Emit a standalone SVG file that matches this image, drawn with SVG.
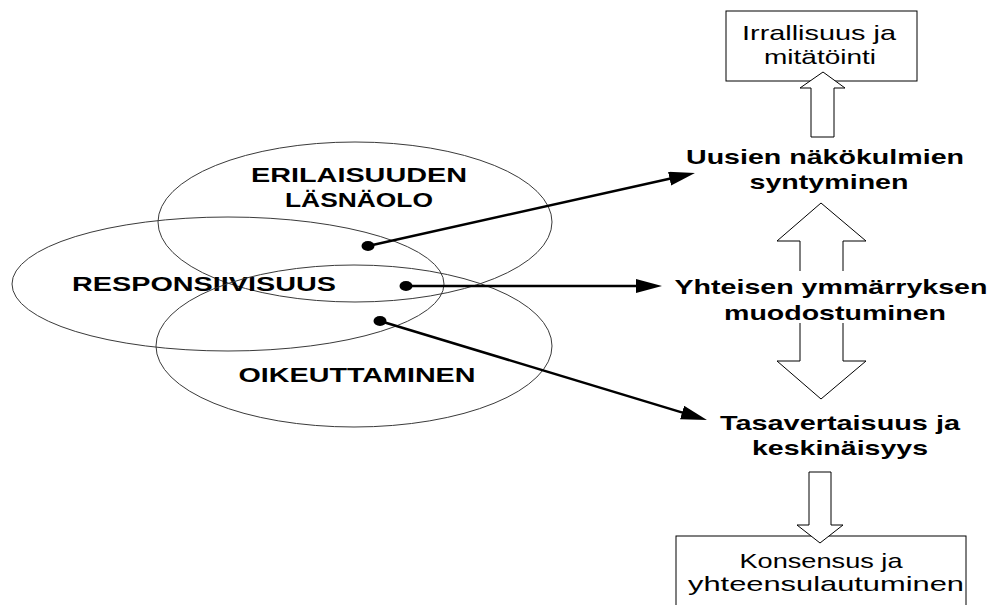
<svg xmlns="http://www.w3.org/2000/svg" width="994" height="605" viewBox="0 0 994 605">
  <style>
    .ell { fill: none; stroke: #3a3a3a; stroke-width: 1; }
    .lab { font-family: "Liberation Sans", Arial, sans-serif; font-weight: bold; font-size: 20px; fill: #000; text-anchor: middle; }
    .rlab { font-family: "Liberation Sans", Arial, sans-serif; font-weight: bold; font-size: 21px; fill: #000; text-anchor: middle; }
    .btxt { font-family: "Liberation Sans", Arial, sans-serif; font-size: 21px; fill: #000; text-anchor: middle; }
    .box { fill: #fff; stroke: #000; stroke-width: 1; }
    .link { fill: none; stroke: #000; stroke-width: 2.5; }
    .dot { fill: #000; }
    .block { fill: #fff; stroke: #000; stroke-width: 1; stroke-linejoin: miter; }
  </style>
  <defs>
    <marker id="head" markerUnits="userSpaceOnUse" markerWidth="28" markerHeight="16" refX="16" refY="7" orient="auto">
      <path d="M0,0 L26,7 L0,14 Z" fill="#000"/>
    </marker>
  </defs>
  <rect width="994" height="605" fill="#fff"/>

  <g id="erilaisuuden">
    <ellipse class="ell" cx="355" cy="222" rx="197" ry="80"/>
    <text class="lab" x="359" y="182" textLength="216" lengthAdjust="spacingAndGlyphs">ERILAISUUDEN</text>
    <text class="lab" x="359" y="207" textLength="148" lengthAdjust="spacingAndGlyphs">LÄSNÄOLO</text>
  </g>
  <g id="responsiivisuus">
    <ellipse class="ell" cx="228" cy="284" rx="216" ry="67"/>
    <text class="lab" x="204" y="291" textLength="264" lengthAdjust="spacingAndGlyphs">RESPONSIIVISUUS</text>
  </g>
  <g id="oikeuttaminen">
    <ellipse class="ell" cx="354" cy="346" rx="198" ry="81"/>
    <text class="lab" x="357" y="382" textLength="237" lengthAdjust="spacingAndGlyphs">OIKEUTTAMINEN</text>
  </g>

  <g id="irrallisuus">
    <rect class="box" x="726" y="11" width="191" height="70"/>
    <text class="btxt" x="819" y="40" textLength="154" lengthAdjust="spacingAndGlyphs">Irrallisuus ja</text>
    <text class="btxt" x="820" y="64" textLength="112" lengthAdjust="spacingAndGlyphs">mitätöinti</text>
  </g>
  <g id="uusien">
    <text class="rlab" x="825" y="164" textLength="278" lengthAdjust="spacingAndGlyphs">Uusien näkökulmien</text>
    <text class="rlab" x="829" y="189" textLength="159" lengthAdjust="spacingAndGlyphs">syntyminen</text>
  </g>
  <g id="yhteisen">
    <text class="rlab" x="831" y="294" textLength="313" lengthAdjust="spacingAndGlyphs">Yhteisen ymmärryksen</text>
    <text class="rlab" x="835" y="320" textLength="222" lengthAdjust="spacingAndGlyphs">muodostuminen</text>
  </g>
  <g id="tasavertaisuus">
    <text class="rlab" x="840" y="430" textLength="240" lengthAdjust="spacingAndGlyphs">Tasavertaisuus ja</text>
    <text class="rlab" x="840" y="455" textLength="176" lengthAdjust="spacingAndGlyphs">keskinäisyys</text>
  </g>
  <g id="konsensus">
    <rect class="box" x="676" y="536" width="290" height="80"/>
    <text class="btxt" x="821" y="568" textLength="163" lengthAdjust="spacingAndGlyphs">Konsensus ja</text>
    <text class="btxt" x="826" y="591" textLength="276" lengthAdjust="spacingAndGlyphs">yhteensulautuminen</text>
  </g>

  <g id="connectors">
    <line class="link" x1="368" y1="246" x2="685.2" y2="175.2" marker-end="url(#head)"/>
    <line class="link" x1="406" y1="286" x2="652" y2="286" marker-end="url(#head)"/>
    <line class="link" x1="380" y1="321" x2="697.4" y2="417.1" marker-end="url(#head)"/>
    <ellipse class="dot" cx="368" cy="246" rx="6.5" ry="5"/>
    <ellipse class="dot" cx="406" cy="286" rx="6.5" ry="5"/>
    <ellipse class="dot" cx="380" cy="321" rx="6.5" ry="5"/>
    <path class="block" d="M811,137 L811,88 L800,88 L823,72 L845,88 L834,88 L834,137 Z"/>
    <path class="block" d="M800,271 L800,241 L777,241 L821,203 L866,241 L843,241 L843,271"/>
    <path class="block" d="M800,323 L800,361 L777,361 L821,399 L866,361 L843,361 L843,323"/>
    <path class="block" d="M809,472 L809,525 L797,525 L820,543 L843,525 L831,525 L831,472 Z"/>
  </g>
</svg>
